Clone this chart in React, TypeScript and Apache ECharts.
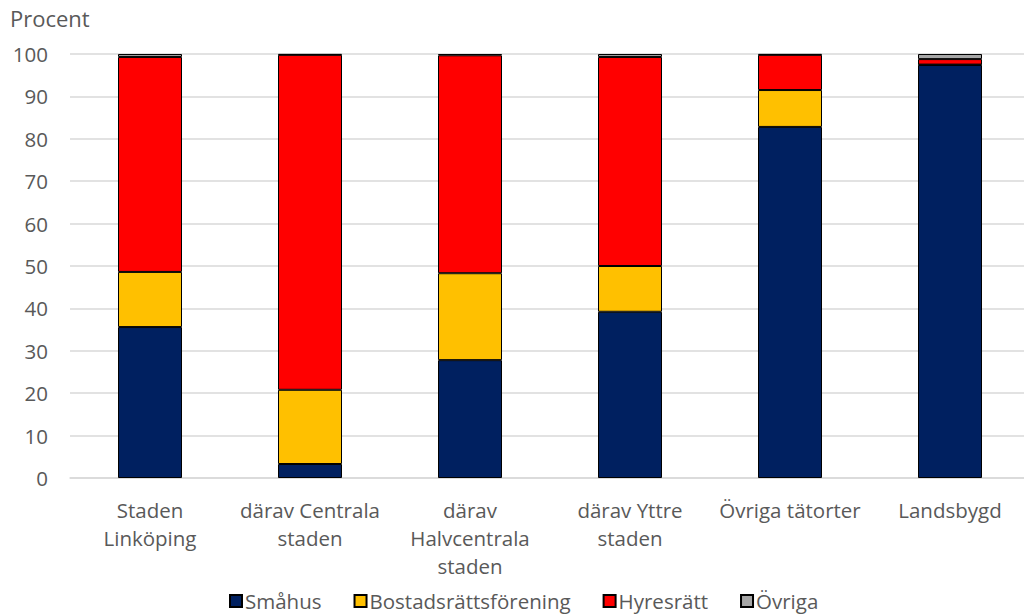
import React, { useEffect, useRef } from "react";
import * as echarts from "echarts";

const categories = [
  "Staden\nLinköping",
  "därav Centrala\nstaden",
  "därav\nHalvcentrala\nstaden",
  "därav Yttre\nstaden",
  "Övriga tätorter",
  "Landsbygd",
];
const smahus = [35.6, 3.3, 27.8, 39.2, 82.8, 97.4];
const bostadsratt = [13.0, 17.5, 20.5, 10.8, 8.7, 0.1];
const hyresratt = [50.7, 79.0, 51.4, 49.3, 8.3, 1.3];
const ovriga = [0.7, 0.2, 0.3, 0.7, 0.2, 1.2];
const yTicks = [0, 10, 20, 30, 40, 50, 60, 70, 80, 90, 100];

const FONT = "'Open Sans', 'Noto Sans', sans-serif";

export default function App() {
  const ref = useRef<HTMLDivElement>(null);
  useEffect(() => {
    if (!ref.current) return;
    const chart = echarts.init(ref.current, null, { renderer: "svg" });
    const mk = (name: string, data: number[], color: string) => ({
      name,
      type: "bar",
      stack: "total",
      data,
      barWidth: 64,
      itemStyle: { color, borderColor: "#000", borderWidth: 1 },
      emphasis: { disabled: true },
    });
    chart.setOption({
      animation: false,
      backgroundColor: "#fff",
      textStyle: { fontFamily: FONT },
      grid: { left: 70, top: 54, right: 0, height: 424, containLabel: false },
      graphic: [
        {
          type: "text",
          left: 10,
          top: 7,
          style: { text: "Procent", fontSize: 22, fill: "#595959", fontFamily: FONT },
        },
      ],
      legend: {
        top: 585,
        left: 224,
        itemWidth: 12,
        itemHeight: 12,
        itemGap: 32,
        icon: "rect",
        textStyle: {
          fontSize: 20.5,
          lineHeight: 22,
          color: "#595959",
          fontFamily: FONT,
          padding: [0, 0, 0, -2],
        },
        data: ["Småhus", "Bostadsrättsförening", "Hyresrätt", "Övriga"],
      },
      xAxis: {
        type: "category",
        data: categories,
        axisLine: { lineStyle: { color: "#d9d9d9", width: 1.5 } },
        axisTick: { show: false },
        axisLabel: {
          color: "#595959",
          fontSize: 20.5,
          lineHeight: 28,
          margin: 18,
          interval: 0,
          fontFamily: FONT,
        },
      },
      yAxis: {
        type: "value",
        min: 0,
        max: 100,
        interval: 10,
        axisLine: { show: false },
        axisTick: { show: false },
        splitLine: { lineStyle: { color: "#d9d9d9", width: 1.5 } },
        axisLabel: {
          color: "#595959",
          fontSize: 20.5,
          margin: 22,
          fontFamily: FONT,
          formatter: (v: number) => (yTicks.includes(v) ? String(v) : ""),
        },
      },
      series: [
        mk("Småhus", smahus, "#002060"),
        mk("Bostadsrättsförening", bostadsratt, "#FFC000"),
        mk("Hyresrätt", hyresratt, "#FF0000"),
        mk("Övriga", ovriga, "#A6A6A6"),
      ],
    });
    return () => chart.dispose();
  }, []);
  return (
    <div
      style={{
        position: "fixed",
        left: 0,
        top: 0,
        width: 1024,
        height: 615,
        overflow: "hidden",
      }}
    >
      <div ref={ref} style={{ width: 1030, height: 615 }} />
    </div>
  );
}
